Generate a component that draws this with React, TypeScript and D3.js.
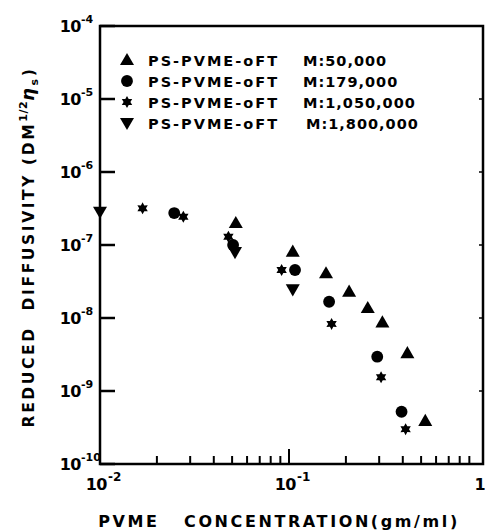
import React from "react";
import * as d3 from "d3";

const seriesLabels = ["PS-PVME-oFT", "PS-PVME-oFT", "PS-PVME-oFT", "PS-PVME-oFT"];
const massLabels = ["M:50,000", "M:179,000", "M:1,050,000", "M:1,800,000"];
const symbolKinds = ["triangle", "circle", "star", "down"];

const m50k: [number, number][] = [
  [0.0523, 2.0e-7], [0.1047, 8.1e-8], [0.157, 4.1e-8], [0.208, 2.3e-8],
  [0.261, 1.37e-8], [0.312, 8.7e-9], [0.423, 3.3e-9], [0.526, 3.9e-10],
];
const m179k: [number, number][] = [
  [0.0247, 2.74e-7], [0.0506, 1.0e-7], [0.1076, 4.55e-8], [0.163, 1.67e-8],
  [0.293, 2.95e-9], [0.394, 5.2e-10],
];
const m1050k: [number, number][] = [
  [0.0168, 3.18e-7], [0.0276, 2.44e-7], [0.0478, 1.3e-7], [0.0914, 4.55e-8],
  [0.168, 8.3e-9], [0.307, 1.54e-9], [0.414, 3.0e-10],
];
const m1800k: [number, number][] = [
  [0.01, 2.86e-7], [0.0518, 8.0e-8], [0.1047, 2.47e-8],
];
const allSeries = [m50k, m179k, m1050k, m1800k];

const xTickExps = [-2, -1, 0];
const yTickExps = [-10, -9, -8, -7, -6, -5, -4];

const FONT = "'DejaVu Sans', 'Liberation Sans', Arial, sans-serif";

const starPath = (() => {
  const pts: [number, number][] = [];
  for (let i = 0; i < 12; i++) {
    pts.push([(i * Math.PI) / 6, i % 2 === 0 ? 6 : 3.4]);
  }
  return d3.lineRadial().curve(d3.curveLinearClosed)(pts) || "";
})();

function Marker({ kind, x, y }: { kind: string; x: number; y: number }) {
  if (kind === "triangle") {
    const p = d3.symbol().type(d3.symbolTriangle).size(85)() || "";
    return <path d={p} transform={`translate(${x},${y + 1})`} fill="#000" />;
  }
  if (kind === "down") {
    const p = d3.symbol().type(d3.symbolTriangle).size(85)() || "";
    return <path d={p} transform={`translate(${x},${y - 1}) rotate(180)`} fill="#000" />;
  }
  if (kind === "circle") {
    const p = d3.symbol().type(d3.symbolCircle).size(110)() || "";
    return <path d={p} transform={`translate(${x},${y})`} fill="#000" />;
  }
  return <path d={starPath} transform={`translate(${x},${y})`} fill="#000" />;
}

export default function App() {
  const W = 485, H = 532;
  const left = 100, right = 483, top = 26, bottom = 464;
  const x = d3.scaleLog().domain([0.01, 1]).range([100, 478]);
  const y = d3.scaleLog().domain([1e-10, 1e-4]).range([bottom, top]);

  const minorX: number[] = [];
  for (const e of [-2, -1]) {
    for (let k = 2; k <= 9; k++) minorX.push(k * Math.pow(10, e));
  }

  return (
    <svg width={W} height={H} style={{ position: "absolute", left: 0, top: 0, background: "#fff" }}
      fontFamily={FONT} fontWeight="bold">
      <rect x={0} y={0} width={W} height={H} fill="#fff" />
      {/* frame */}
      <rect x={left} y={top} width={right - left} height={bottom - top} fill="none" stroke="#000" strokeWidth={2.5} />
      {/* y ticks */}
      {yTickExps.map((e) => (
        <g key={"y" + e}>
          <line x1={left} x2={left + 15} y1={y(Math.pow(10, e))} y2={y(Math.pow(10, e))} stroke="#000" strokeWidth={2.5} />
          <line x1={right - 4} x2={right} y1={y(Math.pow(10, e))} y2={y(Math.pow(10, e))} stroke="#000" strokeWidth={1.5} />
          <text x={81} y={y(Math.pow(10, e)) + 6} fontSize={16} textAnchor="end" letterSpacing={-0.5}>10</text>
          <text x={81} y={y(Math.pow(10, e)) - 3} fontSize={11}>{"-" + Math.abs(e)}</text>
        </g>
      ))}
      {/* x ticks */}
      {minorX.map((v, i) => (
        <line key={"mx" + i} x1={x(v)} x2={x(v)} y1={bottom} y2={bottom - 8} stroke="#000" strokeWidth={2} />
      ))}
      <line x1={x(0.1)} x2={x(0.1)} y1={bottom} y2={bottom - 15} stroke="#000" strokeWidth={2} />
      {xTickExps.map((e) => {
        const px = x(Math.pow(10, e));
        if (e === 0) {
          return <text key={"xl" + e} x={px + 2} y={490} fontSize={16} textAnchor="middle">1</text>;
        }
        return (
          <g key={"xl" + e}>
            <text x={px + 7} y={490} fontSize={16} textAnchor="end" letterSpacing={-0.5}>10</text>
            <text x={px + 8} y={481} fontSize={12}>{"-" + Math.abs(e)}</text>
          </g>
        );
      })}
      {/* data */}
      {allSeries.map((s, si) =>
        s.map((d, i) => <Marker key={si + "-" + i} kind={symbolKinds[si]} x={x(d[0])} y={y(d[1])} />)
      )}
      {/* legend */}
      {seriesLabels.map((lab, i) => (
        <g key={"lg" + i}>
          <Marker kind={symbolKinds[i]} x={127} y={60 + i * 21} />
          <text x={148} y={66 + i * 21} fontSize={14.5} letterSpacing={2.0}>{lab}</text>
          <text x={i === 3 ? 306 : 303} y={66 + i * 21} fontSize={14.5} letterSpacing={1.0}>{massLabels[i]}</text>
        </g>
      ))}
      {/* axis titles */}
      <text x={279} y={527} fontSize={16} textAnchor="middle" letterSpacing={2.6} xmlSpace="preserve">
        {"PVME   CONCENTRATION(gm/ml)"}
      </text>
      <g transform="translate(34,247) rotate(-90)">
        <text x={0} y={0} fontSize={15.5} textAnchor="middle" letterSpacing={2.6} xmlSpace="preserve">
          <tspan>{"REDUCED  DIFFUSIVITY (DM"}</tspan>
          <tspan dy={-7} fontSize={11} letterSpacing={0.5}>1/2</tspan>
          <tspan dy={7} fontSize={18} fontStyle="italic">η</tspan>
          <tspan dy={4} fontSize={11}>s</tspan>
          <tspan dy={-4}>)</tspan>
        </text>
      </g>
    </svg>
  );
}
